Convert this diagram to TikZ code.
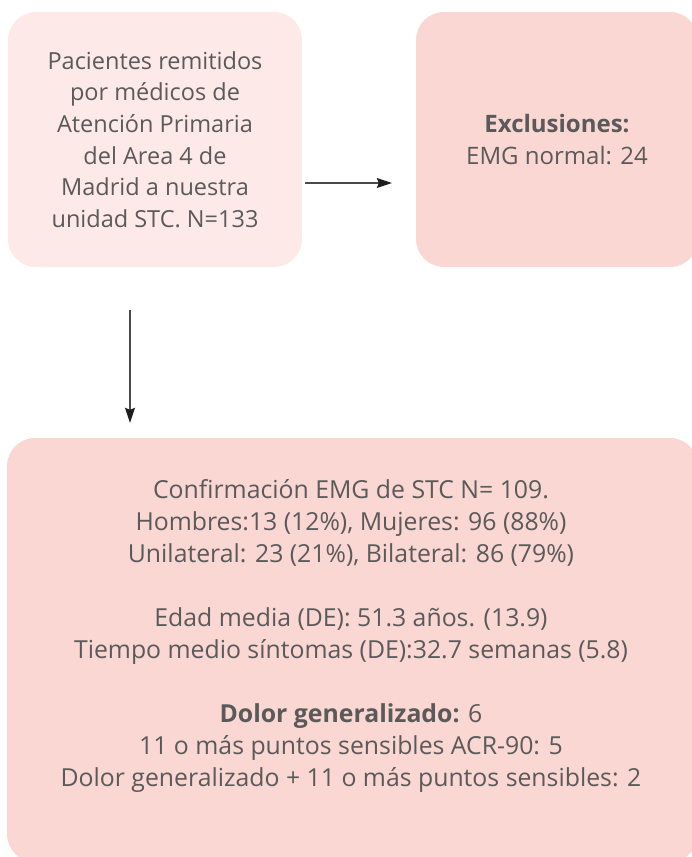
\documentclass[tikz,border=0pt]{standalone}
\usepackage{fontspec}
\setmainfont{Open Sans}
\usetikzlibrary{arrows.meta}
\definecolor{txtgray}{HTML}{5A5A5A}
\definecolor{pinklight}{HTML}{FDE9E7}
\definecolor{pinkmid}{HTML}{FAD7D2}
\definecolor{arrgray}{HTML}{4A4A4A}
\definecolor{tipblack}{HTML}{1E1E1E}
\tikzset{
  box/.style={rounded corners=28pt, inner sep=0pt, draw=none},
  txt/.style={text=txtgray, align=center, inner sep=0pt},
  arr/.style={draw=arrgray, line width=1.1pt, -{Stealth[length=15pt,width=10pt,inset=2pt,color=tipblack]}}
}
\begin{document}
\begin{tikzpicture}[x=1pt,y=-1pt]
\useasboundingbox (0,0) rectangle (692,857);
\clip (0,0) rectangle (692,857);
\node[box, fill=pinklight, minimum width=294pt, minimum height=255pt] (b1) at (155,139.5) {};
\node[box, fill=pinkmid, minimum width=282pt, minimum height=255pt] (b2) at (557,139.5) {};
\node[box, fill=pinkmid, minimum width=691pt, minimum height=424pt] (b3) at (352.5,650) {};
\node[txt, font=\fontsize{23.5}{31.7}\selectfont] (t1) at (b1.center) {Pacientes remitidos\\por médicos de\\Atención Primaria\\del Area 4 de\\Madrid a nuestra\\unidad STC. N=133};
\node[txt, font=\fontsize{24}{32}\selectfont] (t2) at (b2.center) {\textbf{Exclusiones:}\\EMG normal: 24};
\node[txt, font=\fontsize{24.8}{32}\selectfont] (t3) at (351,636) {Confirmación EMG de STC N= 109.\\Hombres:13 (12\%), Mujeres: 96 (88\%)\\Unilateral: 23 (21\%), Bilateral: 86 (79\%)\\[32pt]Edad media (DE): 51.3 años. (13.9)\\Tiempo medio síntomas (DE):32.7 semanas (5.8)\\[32pt]\textbf{Dolor generalizado:} 6\\11 o más puntos sensibles ACR-90: 5\\Dolor generalizado + 11 o más puntos sensibles: 2};
\draw[arr] ([shift={(3,43.5)}]b1.east) -- ([shift={(-24,43.5)}]b2.west);
\draw[arr] ([shift={(-25,43)}]b1.south) -- ([shift={(-222.5,-15)}]b3.north);
\end{tikzpicture}
\end{document}
